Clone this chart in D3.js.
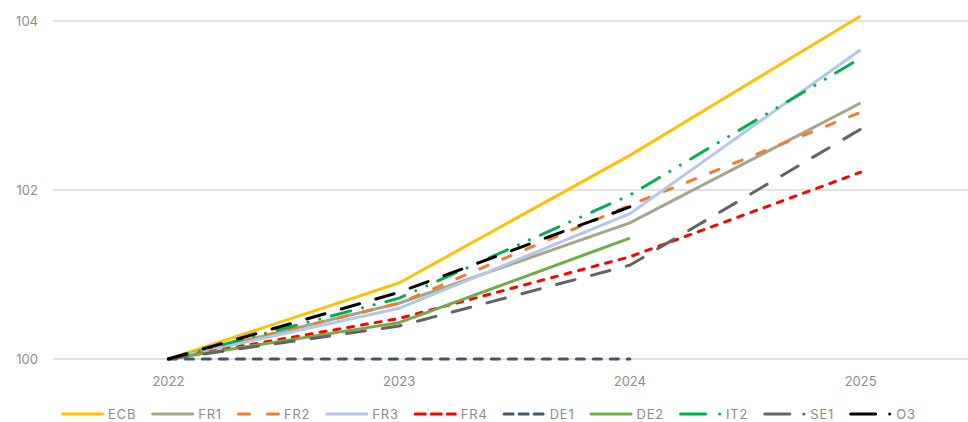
<!DOCTYPE html>
<html>
<head>
<meta charset="utf-8">
<script src="https://cdn.jsdelivr.net/npm/d3@7"></script>
<style>
  body { margin: 0; background: #fff; }
  text { font-family: Inter, "Noto Sans", sans-serif; fill: #8c8c8c; }
</style>
</head>
<body>
<div id="chart"></div>
<script>
// categories + tick values
let years = ["2022", "2023", "2024", "2025"];
let yTicks = [100, 102, 104];

// series (null = no value for that year)
let seriesNames = ["ECB", "FR1", "FR2", "FR3", "FR4", "DE1", "DE2", "IT2", "SE1", "O3"];
let ecb = [100, 100.90, 102.41, 104.06];
let fr1 = [100, 100.66, 101.61, 103.03];
let fr2 = [100, 100.66, 101.82, 102.92];
let fr3 = [100, 100.60, 101.72, 103.66];
let fr4 = [100, 100.48, 101.21, 102.21];
let de1 = [100, 100, 100, null];
let de2 = [100, 100.43, 101.43, null];
let it2 = [100, 100.72, 101.94, 103.56];
let se1 = [100, 100.39, 101.11, 102.72];
let o3  = [100, 100.79, 101.80, null];
let allValues = [ecb, fr1, fr2, fr3, fr4, de1, de2, it2, se1, o3];

// styles
let colors = ["#FFC000", "#A5A58A", "#ED7D31", "#B4C7E7", "#FF0000", "#44546A", "#70AD47", "#00B050", "#636363", "#000000"];
let dashes = [null, null, "9,16", null, "6,8", "8,9", null, "20,12,0.1,12,0.1,12", "19,17", "19,17"];
let legendDashes = [null, null, "11,18", null, "10,6", "9,6", null, "25,14,0.1,40", "25,14,0.1,40", "25,14,0.1,40"];

let width = 968, height = 422;
let svg = d3.select("#chart").append("svg")
  .attr("width", width)
  .attr("height", height);

let x = d3.scalePoint().domain(years).range([53, 976]).padding(0.5);
let y = d3.scaleLinear().domain([100, 104]).range([359, 21]);

// gridlines
svg.append("g")
  .selectAll("line")
  .data(yTicks)
  .enter()
  .append("line")
  .attr("x1", 53).attr("x2", 976)
  .attr("y1", d => y(d)).attr("y2", d => y(d))
  .attr("stroke", "#d9d9d9")
  .attr("stroke-width", 1.5);

// y labels
svg.append("g")
  .selectAll("text")
  .data(yTicks)
  .enter()
  .append("text")
  .attr("x", 38)
  .attr("y", d => y(d))
  .attr("dy", "0.35em")
  .attr("text-anchor", "end")
  .style("font-size", "13px")
  .text(d => d);

// x labels
svg.append("g")
  .selectAll("text")
  .data(years)
  .enter()
  .append("text")
  .attr("x", d => x(d))
  .attr("y", 381)
  .attr("dy", "0.35em")
  .attr("text-anchor", "middle")
  .style("font-size", "13px")
  .text(d => d);

let line = d3.line()
  .defined(d => d.v != null)
  .x(d => x(d.year))
  .y(d => y(d.v));

let seriesData = seriesNames.map((name, i) => ({
  name: name,
  i: i,
  points: years.map((yr, j) => ({ year: yr, v: allValues[i][j] }))
}));

svg.append("g")
  .selectAll("path")
  .data(seriesData)
  .enter()
  .append("path")
  .attr("d", d => line(d.points))
  .attr("fill", "none")
  .attr("stroke", d => colors[d.i])
  .attr("stroke-width", 3)
  .attr("stroke-linecap", d => dashes[d.i] ? "round" : "butt")
  .attr("stroke-dasharray", d => dashes[d.i]);

// legend
let legend = svg.append("g");
let lx = 61;
let legendY = 414;
seriesData.forEach(d => {
  legend.append("line")
    .attr("x1", lx + 1.5).attr("x2", lx + 43 - 1.5)
    .attr("y1", legendY).attr("y2", legendY)
    .attr("stroke", colors[d.i])
    .attr("stroke-width", 3)
    .attr("stroke-linecap", "round")
    .attr("stroke-dasharray", legendDashes[d.i]);
  let t = legend.append("text")
    .attr("x", lx + 47)
    .attr("y", legendY)
    .attr("dy", "0.35em")
    .style("font-size", "13px")
    .style("letter-spacing", "0.8px")
    .text(d.name);
  lx = lx + 47 + t.node().getComputedTextLength() + 15;
});
</script>
</body>
</html>
